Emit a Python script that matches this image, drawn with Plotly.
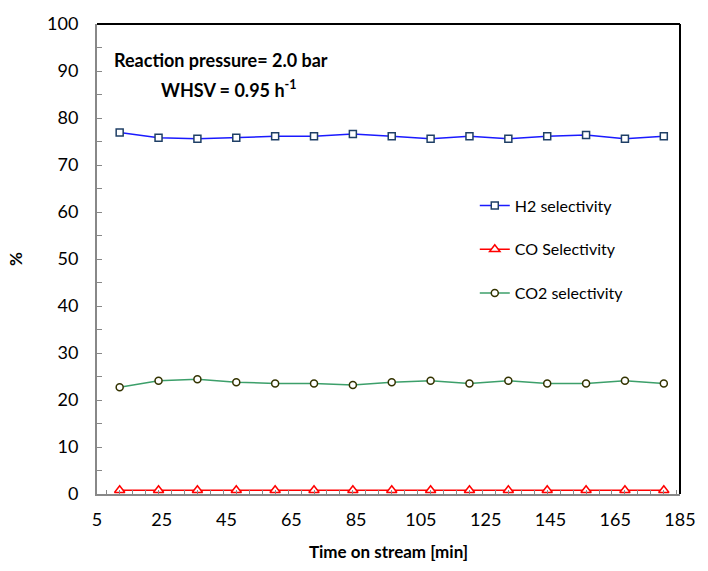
import plotly.graph_objects as go

time_min = [12, 24, 36, 48, 60, 72, 84, 96, 108, 120, 132, 144, 156, 168, 180]
h2_sel = [76.9, 75.8, 75.6, 75.8, 76.1, 76.1, 76.6, 76.1, 75.6, 76.1, 75.6, 76.1, 76.4, 75.6, 76.1]
co_sel = [0.8] * 15
co2_sel = [22.7, 24.1, 24.4, 23.8, 23.5, 23.5, 23.2, 23.8, 24.1, 23.5, 24.1, 23.5, 23.5, 24.1, 23.5]
x_ticks = [5, 25, 45, 65, 85, 105, 125, 145, 165, 185]
y_ticks = [0, 10, 20, 30, 40, 50, 60, 70, 80, 90, 100]

FONT = "Lato"

fig = go.Figure()
fig.add_trace(go.Scatter(
    x=time_min, y=h2_sel, name="H2 selectivity", mode="lines+markers",
    line=dict(color="#1a1aff", width=1.5),
    marker=dict(symbol="square", size=7, color="white", line=dict(color="#1f3f66", width=1.5)),
    legendgroup="a"))
fig.add_trace(go.Scatter(
    x=time_min, y=co_sel, name="CO Selectivity", mode="lines+markers",
    line=dict(color="#ff0000", width=1.5),
    marker=dict(symbol="triangle-up", size=9, color="white", line=dict(color="#ff0000", width=1.5)),
    legendgroup="b"))
fig.add_trace(go.Scatter(
    x=time_min, y=co2_sel, name="CO2 selectivity", mode="lines+markers",
    line=dict(color="#3c9f6a", width=1.5),
    marker=dict(symbol="circle", size=7, color="white", line=dict(color="#333300", width=1.5)),
    legendgroup="c"))

fig.update_layout(
    width=708, height=571,
    margin=dict(l=97, r=16, t=21, b=77),
    paper_bgcolor="white", plot_bgcolor="white",
    font=dict(family=FONT, color="black"),
    showlegend=True,
    legend=dict(x=0.648, y=0.65, xanchor="left", yanchor="top",
                font=dict(size=16, family=FONT), tracegroupgap=20,
                bgcolor="rgba(0,0,0,0)", itemwidth=30),
    xaxis=dict(range=[5, 185], tickvals=x_ticks, ticks="",
               showline=True, linecolor="#888888", linewidth=2, mirror=False,
               showgrid=False, zeroline=False,
               tickfont=dict(size=18, family=FONT), ticklabelstandoff=8,
               minor=dict(ticks="inside", dtick=4, tick0=0, ticklen=4, tickcolor="#888888", showgrid=False),
               title=dict(text="<b>Time on stream [min]</b>", font=dict(size=17, family=FONT), standoff=18)),
    yaxis=dict(range=[0, 100], tickvals=y_ticks, ticks="inside", ticklen=5, tickcolor="#888888",
               showline=True, linecolor="#888888", linewidth=2,
               showgrid=False, zeroline=False,
               tickfont=dict(size=18, family=FONT), ticklabelstandoff=13,
               minor=dict(ticks="inside", dtick=5, ticklen=5, tickcolor="#888888", showgrid=False),
               title=dict(text="<b>%</b>", font=dict(size=17, family=FONT), standoff=20)),
)

# top and right frame lines (black)
fig.add_shape(type="line", xref="paper", yref="paper", x0=0, x1=1, y0=1, y1=1,
              line=dict(color="black", width=2))
fig.add_shape(type="line", xref="paper", yref="paper", x0=1, x1=1, y0=0, y1=1,
              line=dict(color="black", width=2))

fig.add_annotation(x=0.025, y=0.923, xref="paper", yref="paper", xanchor="left", yanchor="middle",
                   text="<b>Reaction pressure= 2.0 bar</b>", showarrow=False,
                   font=dict(size=18, family=FONT))
fig.add_annotation(x=0.227, y=0.862, xref="paper", yref="paper", xanchor="center", yanchor="middle",
                   text="<b>WHSV = 0.95 h<sup>-1</sup></b>", showarrow=False,
                   font=dict(size=18, family=FONT))

fig.write_html("out.html")
